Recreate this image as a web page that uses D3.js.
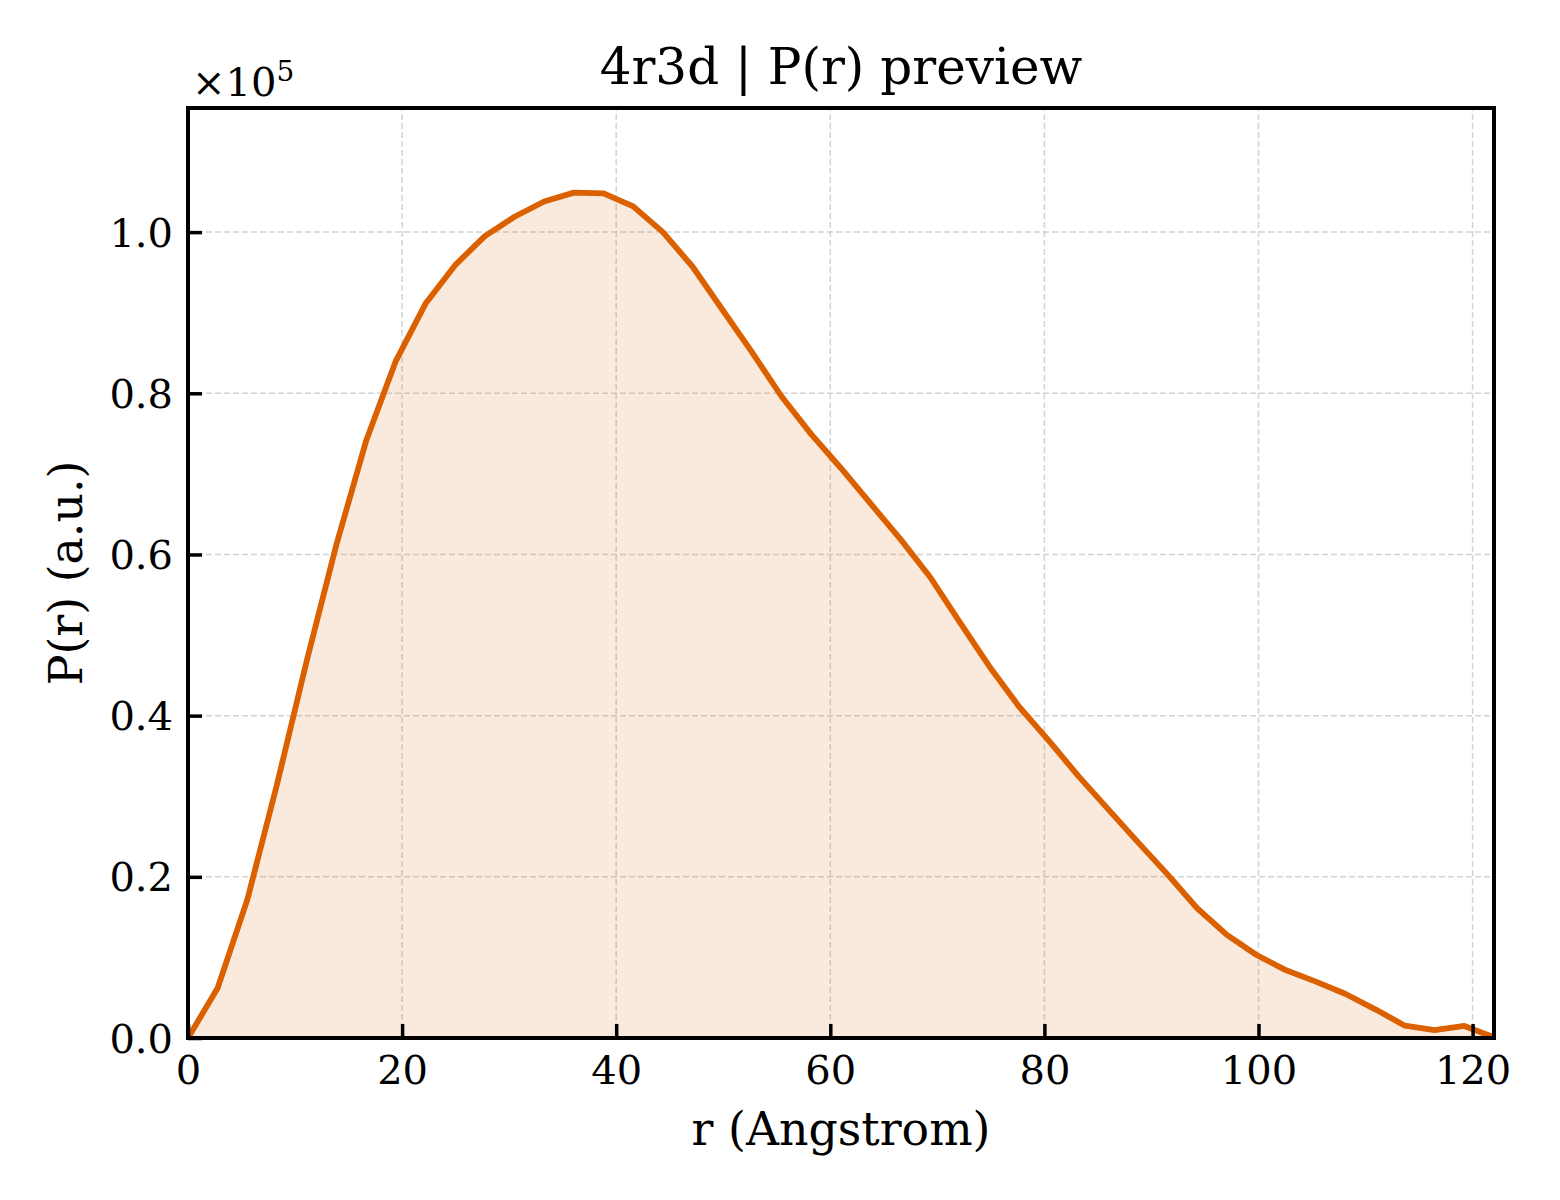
<!DOCTYPE html>
<html>
<head>
<meta charset="utf-8">
<script src="https://cdn.jsdelivr.net/npm/d3@7"></script>
<style>
  body { margin: 0; background: #fff; }
  svg text { font-family: "DejaVu Serif", serif; fill: #000; }
</style>
</head>
<body>
<svg id="chart"></svg>
<script>
const rValues = [
  0, 2.77, 5.55, 8.32, 11.09, 13.86, 16.64, 19.41, 22.18, 24.95,
  27.73, 30.50, 33.27, 36.05, 38.82, 41.59, 44.36, 47.14, 49.91, 52.68,
  55.45, 58.23, 61.00, 63.77, 66.55, 69.32, 72.09, 74.86, 77.64, 80.41,
  83.18, 85.95, 88.73, 91.50, 94.27, 97.05, 99.82, 102.59, 105.36, 108.14,
  110.91, 113.68, 116.45, 119.23, 122.00
];
const pValues = [
  0, 6200, 17200, 31500, 46800, 61200, 74100, 84000, 91100, 95900,
  99500, 101900, 103800, 104900, 104800, 103200, 100000, 95700, 90400, 85100,
  79600, 74900, 70700, 66300, 61900, 57200, 51600, 46100, 41100, 36900,
  32500, 28400, 24300, 20300, 16100, 12800, 10300, 8400, 7000, 5460,
  3560, 1530, 990, 1490, 100
];
const xTicks = [0, 20, 40, 60, 80, 100, 120];
const yTicks = [0, 20000, 40000, 60000, 80000, 100000];
const titleText = "4r3d | P(r) preview";
const xLabel = "r (Angstrom)";
const yLabel = "P(r) (a.u.)";

const width = 1560;
const height = 1200;
const margin = { top: 108, right: 66, bottom: 162, left: 188 };
const color = "#db6000";

const svg = d3.select("#chart").attr("width", width).attr("height", height);

const x = d3.scaleLinear()
  .domain([0, 122])
  .range([margin.left, width - margin.right]);
const y = d3.scaleLinear()
  .domain([0, 115400])
  .range([height - margin.bottom, margin.top]);

const data = rValues.map((r, i) => ({ r: r, p: pValues[i] }));

// grid
const grid = svg.append("g")
  .attr("stroke", "#bdbdbd")
  .attr("stroke-opacity", 0.65)
  .attr("stroke-width", 1.5)
  .attr("stroke-dasharray", "6,3");
grid.selectAll("line.gx")
  .data(xTicks)
  .enter()
  .append("line")
  .attr("x1", (d) => x(d))
  .attr("x2", (d) => x(d))
  .attr("y1", y.range()[0])
  .attr("y2", y.range()[1]);
grid.selectAll("line.gy")
  .data(yTicks)
  .enter()
  .append("line")
  .attr("x1", x.range()[0])
  .attr("x2", x.range()[1])
  .attr("y1", (d) => y(d))
  .attr("y2", (d) => y(d));

// fill + curve
const area = d3.area()
  .x((d) => x(d.r))
  .y0(y(0))
  .y1((d) => y(d.p));
svg.append("path")
  .datum(data)
  .attr("d", area)
  .attr("fill", color)
  .attr("fill-opacity", 0.13);

const line = d3.line()
  .x((d) => x(d.r))
  .y((d) => y(d.p));
svg.append("path")
  .datum(data)
  .attr("d", line)
  .attr("fill", "none")
  .attr("stroke", color)
  .attr("stroke-width", 5.8)
  .attr("stroke-linejoin", "round");

// axes, ticks pointing inward
const xAxis = svg.append("g")
  .attr("transform", `translate(0,${y(0)})`)
  .call(d3.axisBottom(x).tickValues(xTicks).tickSizeInner(-14).tickSizeOuter(0).tickPadding(18));
const yAxis = svg.append("g")
  .attr("transform", `translate(${x(0)},0)`)
  .call(d3.axisLeft(y).tickValues(yTicks).tickFormat((d) => (d / 1e5).toFixed(1))
    .tickSizeInner(-14).tickSizeOuter(0).tickPadding(15));

[xAxis, yAxis].forEach((g) => {
  g.select(".domain").remove();
  g.selectAll(".tick line").attr("stroke", "#000").attr("stroke-width", 3.5);
  g.selectAll(".tick text").attr("font-size", 40).attr("fill", "#000");
});
xAxis.selectAll(".tick text").attr("dy", "0.71em");
yAxis.selectAll(".tick text").attr("dy", "0.35em");

// frame
svg.append("rect")
  .attr("x", x.range()[0])
  .attr("y", y.range()[1])
  .attr("width", x.range()[1] - x.range()[0])
  .attr("height", y.range()[0] - y.range()[1])
  .attr("fill", "none")
  .attr("stroke", "#000")
  .attr("stroke-width", 4);

// offset text
const off = svg.append("text")
  .attr("x", 192)
  .attr("y", 96)
  .attr("font-size", 40);
off.append("tspan").text("×10");
off.append("tspan").attr("font-size", 28).attr("dy", -15).text("5");

// titles
svg.append("text")
  .attr("x", (x.range()[0] + x.range()[1]) / 2)
  .attr("y", 84)
  .attr("text-anchor", "middle")
  .attr("font-size", 50)
  .text(titleText);
svg.append("text")
  .attr("x", (x.range()[0] + x.range()[1]) / 2)
  .attr("y", 1145)
  .attr("text-anchor", "middle")
  .attr("font-size", 45.8)
  .text(xLabel);
svg.append("text")
  .attr("transform", `translate(82,${(y.range()[0] + y.range()[1]) / 2}) rotate(-90)`)
  .attr("text-anchor", "middle")
  .attr("font-size", 45.8)
  .text(yLabel);
</script>
</body>
</html>
